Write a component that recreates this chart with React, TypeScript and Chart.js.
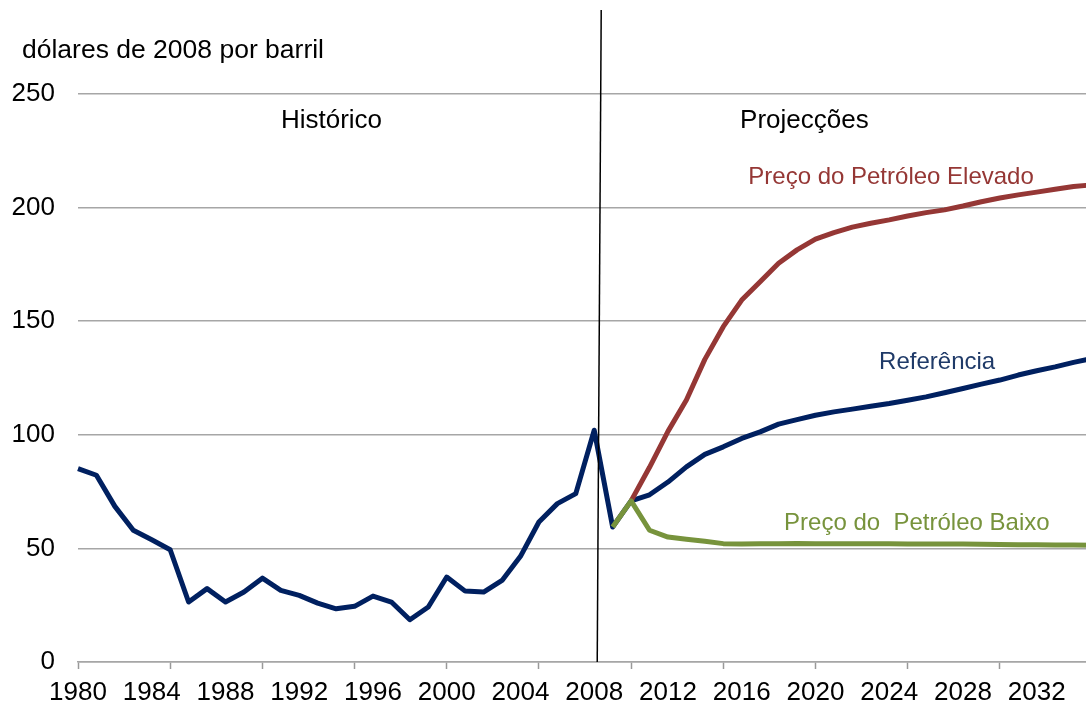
import React, { useEffect, useRef } from "react";
import { Chart, registerables } from "chart.js";

Chart.register(...registerables);

// ---- Data ----
const years: string[] = Array.from({ length: 56 }, (_, i) => String(1980 + i)); // 1980..2035
const historicalStart = 1980;
const historicalValues = [
  85.1, 82.2, 68.5, 58.0, 53.8, 49.4, 26.4, 32.3, 26.4, 30.8,
  36.9, 31.5, 29.3, 25.9, 23.4, 24.5, 29.0, 26.4, 18.6, 24.2,
  37.4, 31.2, 30.8, 35.9, 46.5, 61.6, 69.7, 74.1, 102.0, 59.4,
];
const projectionStart = 2010;
const referenceValues = [
  70.9, 73.6, 79.2, 85.9, 91.4, 94.7, 98.4, 101.3, 104.7, 106.7,
  108.6, 110.1, 111.3, 112.6, 113.8, 115.2, 116.7, 118.5, 120.4, 122.3,
  124.1, 126.3, 128.2, 129.9, 131.9, 133.6,
];
const highValues = [
  70.9, 85.7, 101.5, 115.3, 133.2, 147.6, 159.3, 167.4, 175.5, 181.4,
  186.1, 189.0, 191.4, 193.1, 194.6, 196.3, 197.8, 199.0, 200.7, 202.6,
  204.2, 205.6, 206.8, 208.1, 209.3, 210.0,
];
const lowStart = 2009;
const lowValues = [
  59.4, 70.9, 58.0, 55.0, 54.0, 53.1, 52.1, 51.9, 52.0, 52.1,
  52.2, 52.0, 52.0, 52.0, 52.0, 52.0, 51.9, 51.9, 51.9, 51.9,
  51.8, 51.7, 51.6, 51.6, 51.5, 51.5, 51.4,
];
const yTicks = [0, 50, 100, 150, 200, 250];
const yAxisTitle = "dólares de 2008 por barril";
const separatorYear = "2008";

const NAVY = "#002060";
const RED = "#953735";
const GREEN = "#77933C";
const FONT = "'Liberation Sans', Arial, Helvetica, sans-serif";

const toPoints = (start: number, vals: number[]) =>
  vals.map((v, i) => ({ x: String(start + i), y: v }));

const annotations = [
  { text: "Histórico", x: 1993.75, y: 238.2, color: "#000000", size: 26 },
  { text: "Projecções", x: 2019.4, y: 238.2, color: "#000000", size: 26 },
  { text: "Preço do Petróleo Elevado", x: 2024.1, y: 213.1, color: RED, size: 24 },
  { text: "Referência", x: 2026.6, y: 132.0, color: "#1F3A68", size: 24 },
  { text: "Preço do  Petróleo Baixo", x: 2025.5, y: 61.0, color: GREEN, size: 24 },
];

const overlayPlugin = {
  id: "overlay",
  afterDraw(chart: any) {
    const { ctx, scales, chartArea } = chart;
    const xs = scales.x;
    const ys = scales.y;
    const pxYear = (yr: number) => {
      const p0 = xs.getPixelForValue(0);
      const p1 = xs.getPixelForValue(1);
      return p0 + (yr - 1980) * (p1 - p0);
    };
    ctx.save();
    // separator line
    const sx = xs.getPixelForValue(years.indexOf(separatorYear));
    ctx.strokeStyle = "#000";
    ctx.lineWidth = 1.5;
    ctx.beginPath();
    ctx.moveTo(sx + 7, chartArea.top - 84);
    ctx.lineTo(sx + 3, chartArea.bottom);
    ctx.stroke();
    // axis title
    ctx.fillStyle = "#000";
    ctx.font = `26.5px ${FONT}`;
    ctx.textAlign = "left";
    ctx.textBaseline = "middle";
    ctx.fillText(yAxisTitle, 22, chartArea.top - 43);
    // annotations
    ctx.textAlign = "center";
    for (const a of annotations) {
      ctx.fillStyle = a.color;
      ctx.font = `${a.size}px ${FONT}`;
      ctx.fillText(a.text, pxYear(a.x), ys.getPixelForValue(a.y));
    }
    ctx.restore();
  },
};

export default function App() {
  const ref = useRef<HTMLCanvasElement | null>(null);
  useEffect(() => {
    if (!ref.current) return;
    const lineStyle = {
      borderWidth: 5,
      pointRadius: 0,
      borderJoinStyle: "round",
      tension: 0,
    };
    const chart = new Chart(ref.current, {
      type: "line",
      data: {
        labels: years,
        datasets: [
          {
            label: "Preço do Petróleo Baixo",
            data: toPoints(lowStart, lowValues),
            borderColor: GREEN,
            ...lineStyle,
          },
          {
            label: "Preço do Petróleo Elevado",
            data: toPoints(projectionStart, highValues),
            borderColor: RED,
            ...lineStyle,
          },
          {
            label: "Referência",
            data: [
              ...toPoints(historicalStart, historicalValues),
              ...toPoints(projectionStart, referenceValues),
            ],
            borderColor: NAVY,
            ...lineStyle,
          },
        ],
      },
      options: {
        animation: false,
        responsive: true,
        maintainAspectRatio: false,
        layout: { padding: { top: 94, right: 8, bottom: 0, left: 0 } },
        plugins: { legend: { display: false }, tooltip: { enabled: false } },
        scales: {
          x: {
            type: "category",
            offset: false,
            afterFit: (s: any) => {
              s.height = 47;
            },
            grid: {
              drawOnChartArea: false,
              drawTicks: true,
              tickLength: 7,
              tickWidth: 1.5,
              tickColor: (c: any) => (c.index % 5 === 0 ? "#999999" : "rgba(0,0,0,0)"),
            },
            border: { display: true, color: "#A6A6A6", width: 1.5 },
            ticks: {
              autoSkip: false,
              maxRotation: 0,
              minRotation: 0,
              padding: 8,
              color: "#000",
              font: { family: FONT, size: 26 },
              callback: (_v: any, i: number) => (i % 4 === 0 ? years[i] : ""),
            },
          },
          y: {
            min: 0,
            max: 250,
            afterFit: (s: any) => {
              s.width = 78;
            },
            afterBuildTicks: (s: any) => {
              s.ticks = yTicks.map((v) => ({ value: v }));
            },
            grid: { color: "#A6A6A6", lineWidth: 1.5, drawTicks: false },
            border: { display: false },
            ticks: {
              padding: 23,
              color: "#000",
              font: { family: FONT, size: 26 },
            },
          },
        },
      },
      plugins: [overlayPlugin],
    } as any);
    return () => chart.destroy();
  }, []);
  return (
    <div
      style={{
        position: "fixed",
        left: 0,
        top: 0,
        width: 1086,
        height: 709,
        overflow: "hidden",
        background: "#fff",
      }}
    >
      <div style={{ position: "relative", width: 1100, height: 709 }}>
        <canvas ref={ref} />
      </div>
    </div>
  );
}
